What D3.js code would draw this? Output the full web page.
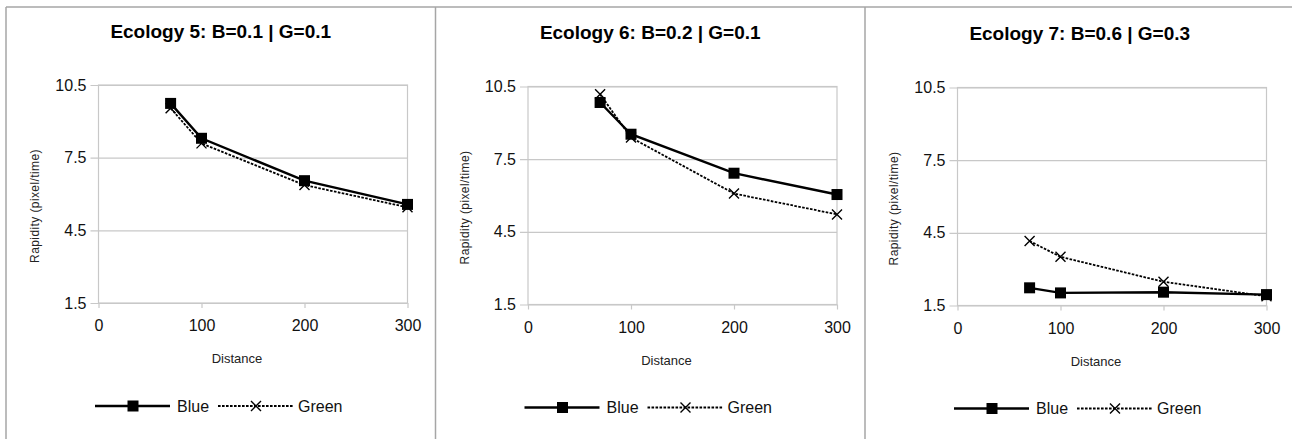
<!DOCTYPE html>
<html>
<head>
<meta charset="utf-8">
<script src="https://cdn.jsdelivr.net/npm/d3@7"></script>
<style>
  html, body { margin: 0; padding: 0; background: #fff; }
  svg { display: block; font-family: "Liberation Sans", Arial, sans-serif; }
</style>
</head>
<body>
<svg id="chart" width="1292" height="439"></svg>
<script>
// Distances at which rapidity was measured
const distances = [70, 100, 200, 300];

// Panel titles
const panelTitles = [
  "Ecology 5: B=0.1 | G=0.1",
  "Ecology 6: B=0.2 | G=0.1",
  "Ecology 7: B=0.6 | G=0.3"
];

// Rapidity (pixel/time) per ecology
const blueEco5  = [9.74, 8.30, 6.55, 5.57];
const greenEco5 = [9.54, 8.09, 6.37, 5.45];
const blueEco6  = [9.84, 8.53, 6.92, 6.04];
const greenEco6 = [10.18, 8.39, 6.08, 5.22];
const blueEco7  = [2.23, 2.02, 2.05, 1.95];
const greenEco7 = [4.16, 3.51, 2.48, 1.88];

// Axis ticks
const xTicks = [0, 100, 200, 300];
const yTicks = [1.5, 4.5, 7.5, 10.5];
const seriesNames = ["Blue", "Green"];

const panels = [
  { title: panelTitles[0], blue: blueEco5, green: greenEco5 },
  { title: panelTitles[1], blue: blueEco6, green: greenEco6 },
  { title: panelTitles[2], blue: blueEco7, green: greenEco7 }
];

const svg = d3.select("#chart");
const frameColor = "#a6a6a6";
const gridColor = "#c8c8c8";
const dashes = "2.6,1.4";

// layout of each panel
const panelLeft = [6, 435.5, 865];
const panelDy = [0, 1.5, 2.5];
const panelW = 429.5;
const plotOffX = 92.5, plotW = 309;
const plotTop = 85, plotH = 218;

// outer frame: top rule, left rule, dividers
svg.append("line").attr("x1", 6).attr("x2", 1292).attr("y1", 7).attr("y2", 7)
  .attr("stroke", frameColor).attr("stroke-width", 1.5);
panelLeft.forEach(x => {
  svg.append("line").attr("x1", x).attr("x2", x).attr("y1", 7).attr("y2", 439)
    .attr("stroke", frameColor).attr("stroke-width", 1.5);
});

panels.forEach((p, i) => {
  const left = panelLeft[i], dy = panelDy[i];
  const g = svg.append("g").attr("transform", `translate(${left},${dy})`);
  const x0 = plotOffX, y0 = plotTop;

  const x = d3.scaleLinear().domain([0, 300]).range([x0, x0 + plotW]);
  const y = d3.scaleLinear().domain([1.5, 10.5]).range([y0 + plotH, y0]);

  // title
  g.append("text")
    .attr("x", panelW / 2).attr("y", 37.5)
    .attr("text-anchor", "middle")
    .attr("font-size", 19).attr("font-weight", "bold").attr("fill", "#000")
    .text(p.title);

  // horizontal gridlines with outward tick
  const yAxis = d3.axisLeft(y).tickValues(yTicks).tickSize(-plotW).tickPadding(12)
    .tickFormat(d3.format(".1f"));
  const ya = g.append("g").attr("transform", `translate(${x0},0)`).call(yAxis);
  ya.select(".domain").remove();
  ya.selectAll(".tick line").attr("stroke", gridColor).attr("stroke-width", 1.2)
    .attr("x1", -8);
  ya.selectAll(".tick text").attr("font-size", 16).attr("fill", "#111")
    .attr("font-family", "'Liberation Sans', Arial, sans-serif");

  // x axis ticks and labels
  const xAxis = d3.axisBottom(x).tickValues(xTicks).tickSize(5).tickPadding(12)
    .tickFormat(d3.format("d"));
  const xa = g.append("g").attr("transform", `translate(0,${y0 + plotH})`).call(xAxis);
  xa.select(".domain").remove();
  xa.selectAll(".tick line").attr("stroke", gridColor).attr("stroke-width", 1.2);
  xa.selectAll(".tick text").attr("font-size", 16).attr("fill", "#111")
    .attr("font-family", "'Liberation Sans', Arial, sans-serif");

  // plot border
  g.append("rect")
    .attr("x", x(0)).attr("y", y(10.5))
    .attr("width", x(300) - x(0)).attr("height", y(1.5) - y(10.5))
    .attr("fill", "none").attr("stroke", gridColor).attr("stroke-width", 1.2);

  // axis titles
  g.append("text")
    .attr("x", x0 + plotW / 2 - 16).attr("y", 363)
    .attr("text-anchor", "middle").attr("font-size", 13).attr("fill", "#222")
    .text("Distance");
  g.append("text")
    .attr("transform", `translate(33,206) rotate(-90)`)
    .attr("text-anchor", "middle").attr("font-size", 12).attr("fill", "#222")
    .attr("letter-spacing", 0.4)
    .text("Rapidity (pixel/time)");

  const line = d3.line().x((d, k) => x(distances[k])).y(d => y(d));

  // Green: dashed line with x markers
  g.append("path").datum(p.green)
    .attr("d", line).attr("fill", "none").attr("stroke", "#000")
    .attr("stroke-width", 1.8).attr("stroke-dasharray", dashes);
  g.selectAll(".gm").data(p.green).enter().append("path")
    .attr("transform", (d, k) => `translate(${x(distances[k])},${y(d)})`)
    .attr("d", "M-5,-5L5,5M-5,5L5,-5")
    .attr("stroke", "#000").attr("stroke-width", 1.4).attr("fill", "none");

  // Blue: solid line with square markers
  g.append("path").datum(p.blue)
    .attr("d", line).attr("fill", "none").attr("stroke", "#000")
    .attr("stroke-width", 2.4);
  g.selectAll(".bm").data(p.blue).enter().append("rect")
    .attr("x", (d, k) => x(distances[k]) - 5.5).attr("y", d => y(d) - 5.5)
    .attr("width", 11).attr("height", 11).attr("fill", "#000");

  // legend
  const ly = 406;
  const lg = g.append("g");
  lg.append("line").attr("x1", 89).attr("x2", 164).attr("y1", ly).attr("y2", ly)
    .attr("stroke", "#000").attr("stroke-width", 2.4);
  lg.append("rect").attr("x", 127 - 5.5).attr("y", ly - 5.5)
    .attr("width", 11).attr("height", 11).attr("fill", "#000");
  lg.append("text").attr("x", 171).attr("y", ly).attr("dy", "0.36em")
    .attr("font-size", 16).attr("fill", "#111").text(seriesNames[0]);
  lg.append("line").attr("x1", 212).attr("x2", 287).attr("y1", ly).attr("y2", ly)
    .attr("stroke", "#000").attr("stroke-width", 1.8).attr("stroke-dasharray", dashes);
  lg.append("path").attr("transform", `translate(250,${ly})`)
    .attr("d", "M-5,-5L5,5M-5,5L5,-5")
    .attr("stroke", "#000").attr("stroke-width", 1.4);
  lg.append("text").attr("x", 292).attr("y", ly).attr("dy", "0.36em")
    .attr("font-size", 16).attr("fill", "#111").text(seriesNames[1]);
});
</script>
</body>
</html>
